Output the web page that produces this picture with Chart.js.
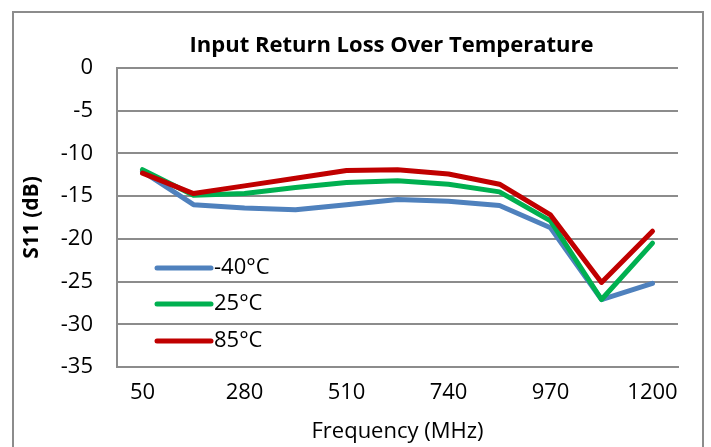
<!DOCTYPE html>
<html>
<head>
<meta charset="utf-8">
<script src="https://cdn.jsdelivr.net/npm/chart.js@4"></script>
<style>
  body { margin: 0; background: #fff; }
  #wrap { position: relative; width: 711px; height: 447px; }
  #frame { position: absolute; left: 12px; top: 11px; width: 692px; height: 450px; border: 2px solid #8c8c8c; box-sizing: border-box; pointer-events: none; }
</style>
</head>
<body>
<div id="wrap">
  <canvas id="rl" width="711" height="447"></canvas>
  <div id="frame"></div>
</div>
<script>
const freqs = ['50', '165', '280', '395', '510', '625', '740', '855', '970', '1085', '1200'];
const s11Cold = [-12.1, -16.0, -16.4, -16.6, -16.0, -15.4, -15.6, -16.1, -18.7, -27.1, -25.2];
const s11Room = [-11.9, -14.9, -14.7, -14.0, -13.4, -13.2, -13.6, -14.5, -17.9, -27.1, -20.5];
const s11Hot = [-12.3, -14.7, -13.8, -12.9, -12.0, -11.9, -12.4, -13.6, -17.2, -25.1, -19.1];
const seriesNames = ['-40°C', '25°C', '85°C'];
const seriesColors = ['#4f81bd', '#00b050', '#c00000'];
const chartTitle = 'Input Return Loss Over Temperature';

const FONT = "'Open Sans', sans-serif";

// excel centres the title over the plot, a bit left of it
const plotTitle = {
  id: 'plotTitle',
  afterDraw(chart) {
    const {ctx, chartArea} = chart;
    ctx.save();
    ctx.font = 'bold 22px ' + FONT;
    ctx.fillStyle = '#000';
    ctx.textAlign = 'center';
    ctx.textBaseline = 'middle';
    ctx.fillText(chartTitle, (chartArea.left + chartArea.right) / 2 - 6, chartArea.top - 22);
    ctx.restore();
  }
};

// legend drawn inside the plot, lower left, like the excel one
const insideLegend = {
  id: 'insideLegend',
  afterDraw(chart) {
    const {ctx, chartArea} = chart;
    const x0 = chartArea.left + 40;
    const rows = [chartArea.top + 200, chartArea.top + 236, chartArea.top + 273];
    ctx.save();
    ctx.font = '22px ' + FONT;
    ctx.textBaseline = 'middle';
    ctx.textAlign = 'left';
    chart.data.datasets.forEach((ds, i) => {
      const y = rows[i];
      ctx.strokeStyle = ds.borderColor;
      ctx.lineWidth = 5;
      ctx.lineCap = 'round';
      ctx.beginPath();
      ctx.moveTo(x0, y);
      ctx.lineTo(x0 + 54, y);
      ctx.stroke();
      ctx.fillStyle = '#000';
      ctx.fillText(ds.label, x0 + 57, y);
    });
    ctx.restore();
  }
};

const ctx = document.getElementById('rl');
new Chart(ctx, {
  type: 'line',
  data: {
    labels: freqs,
    datasets: [
      { label: seriesNames[0], data: s11Cold, borderColor: seriesColors[0], order: 3 },
      { label: seriesNames[1], data: s11Room, borderColor: seriesColors[1], order: 2 },
      { label: seriesNames[2], data: s11Hot, borderColor: seriesColors[2], order: 1 }
    ]
  },
  options: {
    responsive: false,
    animation: false,
    elements: {
      line: { borderWidth: 5, tension: 0, borderCapStyle: 'round', borderJoinStyle: 'round', fill: false },
      point: { radius: 0, hoverRadius: 0 }
    },
    layout: { padding: { left: 0, right: 33, top: 68, bottom: 0 } },
    plugins: {
      legend: { display: false },
      tooltip: { enabled: false },
      title: { display: false }
    },
    scales: {
      x: {
        offset: true,
        grid: { display: false, drawTicks: false },
        border: { display: true, color: '#8c8c8c', width: 2 },
        ticks: {
          autoSkip: false,
          maxRotation: 0,
          padding: 13,
          color: '#000',
          font: { family: FONT, size: 22 },
          callback: function (val, idx) { return idx % 2 === 0 ? this.getLabelForValue(val) : ''; }
        },
        title: {
          display: true,
          text: 'Frequency (MHz)',
          color: '#000',
          font: { family: FONT, size: 22, lineHeight: 1.2 },
          padding: { top: 4, bottom: 2 }
        },
        afterFit(scale) { scale.height = 80; }
      },
      y: {
        min: -35,
        max: 0,
        ticks: {
          stepSize: 5,
          padding: 24,
          color: '#000',
          font: { family: FONT, size: 22 }
        },
        grid: { color: '#8c8c8c', lineWidth: 2, drawTicks: false },
        border: { display: true, color: '#8c8c8c', width: 2 },
        title: {
          display: true,
          text: 'S11 (dB)',
          color: '#000',
          font: { family: FONT, size: 21, weight: 'bold', lineHeight: 1.2 },
          padding: { top: 19, bottom: 0 }
        },
        afterFit(scale) { scale.width = 117; }
      }
    }
  },
  plugins: [plotTitle, insideLegend]
});
</script>
</body>
</html>
